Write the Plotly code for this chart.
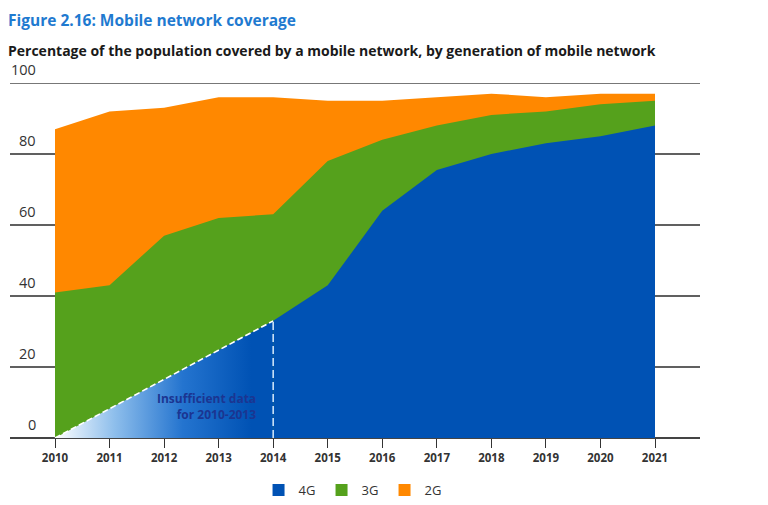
import plotly.graph_objects as go

years = list(range(2010, 2022))
# population covered (%) by at least this generation
cov_2g = [87, 92, 93, 96, 96, 95, 95, 96, 97, 96, 97, 97]
cov_3g = [41, 43, 57, 62, 63, 78, 84, 88, 91, 92, 94, 95]
cov_4g = [0, None, None, None, 33, 43, 64, 75.5, 80, 83, 85, 88]

y_ticks = [0, 20, 40, 60, 80, 100]
series_names = ["4G", "3G", "2G"]
colors = {"4G": "#0052b4", "3G": "#55a11c", "2G": "#ff8800"}

FONT = "Open Sans"

fig = go.Figure()

# back to front: 2G, 3G, then 4G on top
fig.add_trace(go.Scatter(x=years, y=cov_2g, mode="lines", line=dict(width=0),
                         fill="tozeroy", fillcolor=colors["2G"], showlegend=False,
                         hoverinfo="skip"))
fig.add_trace(go.Scatter(x=years, y=cov_3g, mode="lines", line=dict(width=0),
                         fill="tozeroy", fillcolor=colors["3G"], showlegend=False,
                         hoverinfo="skip"))

# 4G: first point, then a gap with no data, then the known series
known = [(x, v) for x, v in zip(years, cov_4g) if v is not None]
kx = [p[0] for p in known[1:]]
ky = [p[1] for p in known[1:]]
fig.add_trace(go.Scatter(x=kx, y=ky, mode="lines", line=dict(width=0),
                         fill="tozeroy", fillcolor=colors["4G"], showlegend=False,
                         hoverinfo="skip"))

# insufficient-data part, drawn with a gradient fill
gx = [known[0][0], kx[0]]
gy = [known[0][1], ky[0]]
fig.add_trace(go.Scatter(x=gx, y=gy, mode="lines", line=dict(width=0),
                         fill="tozeroy",
                         fillgradient=dict(type="horizontal", start=gx[0], stop=gx[1] - 0.4,
                                           colorscale=[[0, "#ffffff"], [0.3, "#8fbfec"],
                                                       [0.65, "#2474cf"], [1, colors["4G"]]]),
                         showlegend=False, hoverinfo="skip"))
# dashed outline of that region
fig.add_trace(go.Scatter(x=gx, y=gy, mode="lines",
                         line=dict(color="#ffffff", width=1.6, dash="6px,3px"),
                         showlegend=False, hoverinfo="skip"))
fig.add_trace(go.Scatter(x=[gx[1], gx[1]], y=[0, gy[1]], mode="lines",
                         line=dict(color="#c9e0f7", width=1.6, dash="8px,4px"),
                         showlegend=False, hoverinfo="skip"))

# legend swatches
for name in series_names:
    fig.add_trace(go.Scatter(x=[None], y=[None], mode="markers", name=name,
                             marker=dict(symbol="square", size=16, color=colors[name],
                                         line=dict(width=0))))

fig.add_annotation(x=2013.72, y=8.8, xanchor="right", yanchor="middle",
                   text="<b>Insufficient data<br>for 2010-2013</b>", showarrow=False,
                   align="right", font=dict(family=FONT, size=12, color="#1b3591"))

# y tick labels sit above the gridlines at the left, right-aligned
for t in y_ticks:
    fig.add_annotation(xref="paper", x=0, y=t, xanchor="right", yanchor="bottom",
                       xshift=28, yshift=2, text=str(t), showarrow=False,
                       font=dict(family=FONT, size=14.5, color="#333333"))

fig.add_annotation(xref="paper", yref="paper", x=0, y=1.0, yanchor="bottom",
                   xanchor="left", yshift=21, xshift=-4, showarrow=False,
                   text="<b>Percentage of the population covered by a mobile network, by generation of mobile network</b>",
                   font=dict(family=FONT, size=14, color="#1a1a1a"))

# page has an 8px body margin, so the figure is 8px smaller than the window
fig.update_layout(
    width=760, height=497,
    margin=dict(l=2, r=68, t=75, b=67),
    paper_bgcolor="white", plot_bgcolor="white",
    title=dict(text="<b>Figure 2.16: Mobile network coverage</b>", x=0, xanchor="left",
               pad=dict(l=0, t=0), y=0.975, yanchor="middle",
               font=dict(family=FONT, size=15.5, color="#1f7ad0")),
    font=dict(family=FONT, color="#333333"),
    legend=dict(orientation="h", x=0.454, xanchor="center", xref="container",
                y=0.03, yanchor="middle", yref="container",
                font=dict(family=FONT, size=13, color="#333333"), entrywidth=18,
                itemsizing="constant"),
    showlegend=True,
)

fig.update_xaxes(range=[2009.175, 2021.825], tickmode="array", tickvals=years,
                 ticktext=[f"<b>{y}</b>" for y in years],
                 ticks="outside", ticklen=9, tickcolor="#333333", tickwidth=1,
                 showgrid=False, zeroline=False, showline=False, automargin=False,
                 tickfont=dict(family=FONT, size=11.5, color="#333333"))
fig.update_yaxes(range=[0, 100], tickmode="array", tickvals=y_ticks,
                 showticklabels=False, showgrid=True, gridcolor="#606060",
                 gridwidth=1.5, zeroline=True, zerolinecolor="#444444", zerolinewidth=1.5,
                 showline=False, ticks="", automargin=False)
# top gridline at 100 (sits on the plot edge)
fig.add_hline(y=100, line=dict(color="#777777", width=2))

fig.write_html("out.html")
